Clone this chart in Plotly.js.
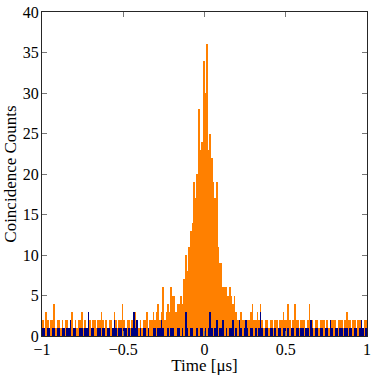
<!DOCTYPE html>
<html>
<head>
<meta charset="utf-8">
<script src="https://cdn.plot.ly/plotly-3.0.1.min.js"></script>
<style>
  html, body { margin: 0; padding: 0; background: #fff; }
  #plot { width: 374px; height: 375px; }
</style>
</head>
<body>
<div id="plot"></div>
<script>
// histogram bins: 200 bins of 0.01 us from -1 to 1
const binStart = -1;
const binWidth = 0.01;

// coincidence counts (orange)
const coincidenceCounts = [
  2,1,3,2,1,2,2,4,1,2, 2,1,2,1,2,2,1,2,3,1,
  2,1,2,2,3,1,2,1,2,2, 1,2,2,1,2,2,3,2,1,2,
  1,2,2,1,3,2,1,2,2,4, 2,1,2,2,1,2,3,3,2,1,
  2,1,2,2,3,1,2,2,3,2, 3,4,2,3,6,2,3,4,3,6,
  5,5,3,4,4,5,4,7,10,8, 11,13,14,19,17,20,28,23,24,34,
  30,36,23,25,22,19,17,19,11,9, 9,6,6,6,5,6,5,4,5,3,
  2,2,3,2,2,1,2,2,3,4, 2,2,3,2,4,2,1,2,2,1,
  2,2,1,2,2,1,2,2,3,2, 2,4,2,1,2,4,2,2,1,2,
  2,2,1,2,4,2,2,1,2,2, 1,2,2,2,1,2,1,2,2,2,
  2,1,2,2,2,1,2,3,2,2, 1,2,2,1,2,2,2,1,2,2
];

// accidental / background counts (blue)
const backgroundCounts = [
  1,1,0,1,1,0,1,1,0,1, 1,0,1,1,0,1,1,2,0,1,
  1,0,0,1,1,0,1,1,3,0, 1,1,0,0,1,1,0,1,1,0,
  1,1,0,1,2,1,0,1,1,0, 1,1,0,1,0,1,3,1,2,0,
  1,0,1,1,0,1,0,0,1,1, 0,1,1,2,1,0,0,1,0,1,
  1,0,0,1,1,0,1,0,3,1, 0,1,1,0,0,1,0,1,1,0,
  1,0,1,3,1,0,1,2,0,1, 1,2,0,1,0,1,1,2,0,1,
  0,2,1,0,1,2,1,0,1,1, 0,1,0,1,3,1,0,1,1,0,
  1,1,0,1,0,1,1,0,1,1, 0,1,0,1,1,0,1,1,0,1,
  1,0,1,1,0,2,1,0,1,1, 0,1,1,0,1,1,0,2,1,0,
  1,1,0,1,1,0,1,1,0,1, 1,0,1,1,0,1,2,1,0,1
];

const xTicks = [-1, -0.5, 0, 0.5, 1];
const yTicks = [0, 5, 10, 15, 20, 25, 30, 35, 40];

const binCenters = coincidenceCounts.map((_, i) => binStart + binWidth * (i + 0.5));

const fontFamily = '"Liberation Serif", "Times New Roman", serif';

const data = [
  {
    type: 'bar',
    x: binCenters,
    y: coincidenceCounts,
    width: binWidth,
    marker: { color: '#ff8000', line: { width: 0 } },
    hoverinfo: 'x+y'
  },
  {
    type: 'bar',
    x: binCenters,
    y: backgroundCounts,
    width: binWidth,
    marker: { color: '#000080', line: { width: 0 } },
    hoverinfo: 'x+y'
  }
];

const axisCommon = {
  showgrid: false,
  zeroline: false,
  showline: true,
  linecolor: '#262626',
  linewidth: 1,
  mirror: 'ticks',
  ticks: 'inside',
  ticklen: 5,
  tickcolor: '#777',
  tickfont: { family: fontFamily, size: 16, color: '#000' }
};

const layout = {
  width: 374,
  height: 375,
  margin: { l: 42, r: 7, t: 12, b: 39 },
  paper_bgcolor: '#fff',
  plot_bgcolor: '#fff',
  showlegend: false,
  barmode: 'overlay',
  bargap: 0,
  font: { family: fontFamily, color: '#000' },
  xaxis: Object.assign({}, axisCommon, {
    range: [-1, 1],
    tickvals: xTicks,
    ticktext: xTicks.map(v => String(v).replace('-', '\u2212')),
    ticklabelstandoff: -1,
    title: { text: 'Time [\u03bcs]', font: { family: fontFamily, size: 17 }, standoff: 1 }
  }),
  yaxis: Object.assign({}, axisCommon, {
    range: [0, 40],
    tickvals: yTicks,
    ticklabelstandoff: -1,
    title: { text: 'Coincidence Counts', font: { family: fontFamily, size: 17 }, standoff: 1 }
  })
};

Plotly.newPlot('plot', data, layout, { displayModeBar: false, staticPlot: true });
</script>
</body>
</html>
